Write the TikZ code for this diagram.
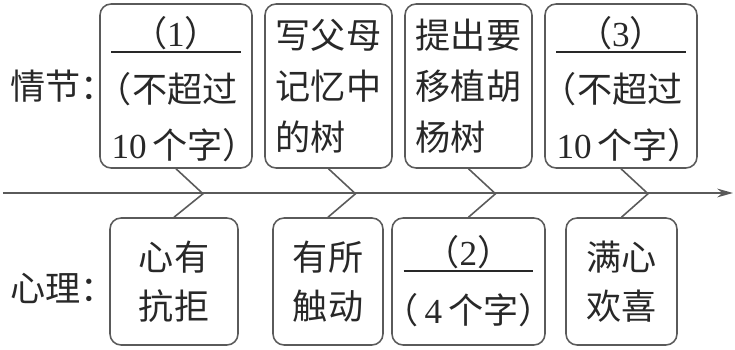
\documentclass[tikz,border=0pt]{standalone}
\usepackage{fontspec}
\newfontfamily\cjk[RawFeature=+halt]{Noto Sans CJK SC}
\newfontfamily\numfont{Liberation Serif}
\usetikzlibrary{arrows.meta}
\definecolor{linegray}{RGB}{90,90,90}
\definecolor{inkgray}{RGB}{40,40,40}
\tikzset{
  box/.style={
    draw=linegray,
    line width=0.9pt,
    rounded corners=0.22cm,
    align=center,
    inner sep=0pt,
    text=inkgray,
    font=\cjk\fontsize{20}{29}\selectfont
  },
  lowbox/.style={
    box,
    minimum height=2.54cm,
    font=\cjk\fontsize{20}{28}\selectfont
  },
  side/.style={
    anchor=west,
    inner sep=0pt,
    text=inkgray,
    font=\cjk\fontsize{20}{29}\selectfont
  },
  bone/.style={
    draw=linegray,
    line width=0.9pt
  },
  spine/.style={
    draw=linegray,
    line width=1.1pt,
    -{Stealth[length=9pt,width=5pt]}
  }
}
\newcommand{\blank}[2]{\rule{0pt}{#2}\makebox[2.6cm]{#1}\llap{\rule[-3.5pt]{2.6cm}{0.9pt}}}
\newcommand{\dg}[1]{{\numfont #1}}

\begin{document}
\begin{tikzpicture}[x=0.02cm,y=-0.02cm]
    \useasboundingbox (0,0) rectangle (735,350);

    \node[side] (qj) at (10,86) {情节：};
    \node[side] (xl) at (10,288) {心理：};

    \node[box, minimum width=3.04cm, minimum height=3.28cm] (t1) at (176,86) {\blank{（\dg{1}）}{21pt}\\[3pt]（不超过\\[3pt]\dg{10}\,个字）};
    \node[box, minimum width=2.54cm, minimum height=3.28cm] (t2) at (328.5,86) {写父母\\记忆中\\的树\hphantom{中}};
    \node[box, minimum width=2.54cm, minimum height=3.28cm] (t3) at (468.5,86) {提出要\\移植胡\\杨树\hphantom{胡}};
    \node[box, minimum width=3.04cm, minimum height=3.28cm] (t4) at (621,86) {\blank{（\dg{3}）}{21pt}\\[3pt]（不超过\\[3pt]\dg{10}\,个字）};

    \node[lowbox, minimum width=2.56cm] (b1) at (174,281.5) {心有\\抗拒};
    \node[lowbox, minimum width=2.2cm] (b2) at (328,281.5) {有所\\触动};
    \node[lowbox, minimum width=3.06cm] (b3) at (468.5,281.5) {\blank{（\dg{2}）}{17pt}\\[5pt]（\,\dg{4}\,个字）};
    \node[lowbox, minimum width=2.22cm] (b4) at (621.5,281.5) {满心\\欢喜};

    \coordinate (s0) at (3,193);
    \coordinate (s1) at (733,193);
    \draw[spine] (s0) -- (s1);

    \draw[bone] (t1.south) -- ++(27,25) -- (b1.north);
    \draw[bone] (t2.south) -- ++(27,25) -- (b2.north);
    \draw[bone] (t3.south) -- ++(27,25) -- (b3.north);
    \draw[bone] (t4.south) -- ++(27,25) -- (b4.north);
\end{tikzpicture}
\end{document}
